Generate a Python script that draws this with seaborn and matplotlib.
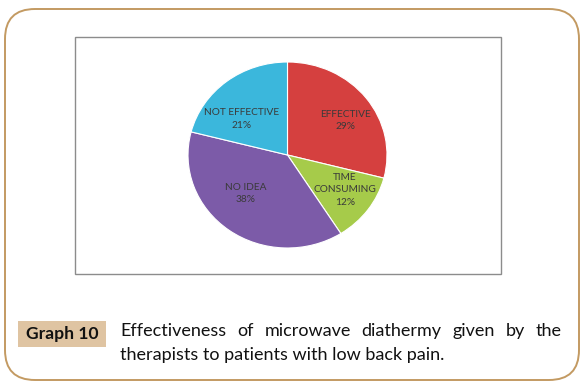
import matplotlib
matplotlib.use("Agg")
import matplotlib.pyplot as plt
from matplotlib.patches import FancyBboxPatch, Rectangle
import numpy as np
import seaborn as sns

labels = ["EFFECTIVE", "TIME\nCONSUMING", "NO IDEA", "NOT EFFECTIVE"]
values = [29, 12, 38, 21]
colors = ["#D5403F", "#A6CB4A", "#7C5BA8", "#3BB7DC"]
tag = "Graph 10"
caption_1 = "Effectiveness of microwave diathermy given by the"
caption_2 = "therapists to patients with low back pain."

sns.set_style("white")
plt.rcParams["font.family"] = ["Lato", "DejaVu Sans"]

W, H = 588, 388
fig = plt.figure(figsize=(W / 100, H / 100), dpi=100)
fig.patch.set_facecolor("white")

# background axes in pixel units for the frame, chart box and caption
bg = fig.add_axes([0, 0, 1, 1])
bg.set_xlim(0, W)
bg.set_ylim(H, 0)
bg.axis("off")

bg.add_patch(FancyBboxPatch((5, 9), 574, 371, boxstyle="round,pad=0,rounding_size=30",
                            facecolor="none", edgecolor="#C39A62", linewidth=1.4))
bg.add_patch(Rectangle((75, 37), 426, 237, facecolor="white",
                       edgecolor="#8c8c8c", linewidth=1))

bg.add_patch(Rectangle((18, 321), 88, 26, facecolor="#DFC4A2", edgecolor="none"))
bg.text(62, 334.5, tag, ha="center", va="center", fontsize=12.6,
        fontweight="bold", color="#111111")

# justified first caption line
fs = 13
fig.canvas.draw()
renderer = fig.canvas.get_renderer()
words = caption_1.split()
x0, x1 = 120, 562
tmp = [bg.text(0, 0, w, fontsize=fs) for w in words]
widths = [t.get_window_extent(renderer).width for t in tmp]
for t in tmp:
    t.remove()
gap = (x1 - x0 - sum(widths)) / (len(words) - 1)
x = x0
for w, wd in zip(words, widths):
    bg.text(x, 331, w, ha="left", va="center", fontsize=fs, color="#111111")
    x += wd + gap
bg.text(x0, 355, caption_2, ha="left", va="center", fontsize=fs, color="#111111")

# pie chart
ax = fig.add_axes([188 / W, 1 - 248 / H, 199 / W, 186 / H])
palette = sns.color_palette(colors)
wedges, texts, autotexts = ax.pie(values, colors=palette, startangle=90, counterclock=False,
                                  autopct="%d%%", pctdistance=0.62,
                                  wedgeprops=dict(edgecolor="white", linewidth=0.8),
                                  textprops=dict(fontsize=7.3, color="#3a3a3a"))
# label placement: (radius, angle shift in degrees) per slice
label_place = [(0.69, -5), (0.69, 3), (0.59, -10), (0.6, 12)]
for w, t, lab, (r, shift) in zip(wedges, autotexts, labels, label_place):
    mid = np.deg2rad((w.theta1 + w.theta2) / 2 + shift)
    t.set_position((r * np.cos(mid), r * np.sin(mid)))
    t.set_text(lab + "\n" + t.get_text())
    t.set_ha("center")
    t.set_multialignment("center")
    t.set_linespacing(1.45)
ax.set_aspect("auto")
ax.set_xlim(-1, 1)
ax.set_ylim(-1, 1)
ax.axis("off")

fig.savefig("out.png", dpi=100)
